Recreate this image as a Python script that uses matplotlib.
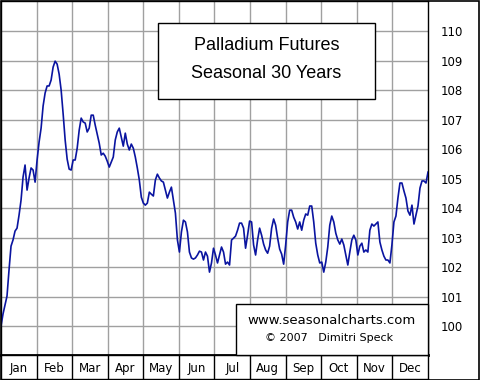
import numpy as np
import matplotlib.pyplot as plt
from matplotlib.patches import Rectangle

# seasonal index, sampled evenly across the year
season = [
    100.00, 100.41, 100.71, 101.02, 101.90, 102.71, 102.92, 103.22, 103.32, 103.76,
    104.27, 105.05, 105.46, 104.61, 105.02, 105.36, 105.29, 104.88, 105.63, 106.24,
    106.71, 107.46, 107.90, 108.14, 108.14, 108.34, 108.78, 108.98, 108.88, 108.54,
    108.00, 107.19, 106.31, 105.66, 105.32, 105.29, 105.63, 105.63, 106.03, 106.64,
    107.05, 106.92, 106.88, 106.58, 106.71, 107.15, 107.15, 106.81, 106.51, 106.20,
    105.80, 105.86, 105.76, 105.59, 105.39, 105.56, 105.73, 106.31, 106.58, 106.71,
    106.41, 106.10, 106.54, 106.17, 105.97, 106.17, 106.03, 105.73, 105.36, 104.95,
    104.37, 104.17, 104.10, 104.17, 104.54, 104.47, 104.41, 104.95, 105.15, 105.02,
    104.92, 104.88, 104.61, 104.34, 104.54, 104.71, 104.27, 103.83, 102.92, 102.51,
    103.19, 103.59, 103.53, 103.19, 102.51, 102.31, 102.27, 102.31, 102.41, 102.54,
    102.51, 102.24, 102.51, 102.37, 101.83, 102.14, 102.64, 102.41, 102.14, 102.41,
    102.68, 102.51, 102.10, 102.17, 102.07, 102.92, 102.98, 103.05, 103.25, 103.49,
    103.49, 103.32, 102.64, 103.08, 103.56, 103.53, 102.75, 102.41, 102.92, 103.32,
    103.08, 102.78, 102.58, 102.47, 102.71, 103.32, 103.63, 103.42, 102.98, 102.61,
    102.44, 102.10, 102.75, 103.53, 103.93, 103.93, 103.69, 103.53, 103.29, 103.53,
    103.25, 103.59, 103.80, 103.76, 104.07, 104.07, 103.53, 102.81, 102.41, 102.14,
    102.17, 101.83, 102.17, 102.68, 103.42, 103.73, 103.53, 103.15, 102.92, 102.78,
    102.95, 102.75, 102.41, 102.07, 102.51, 102.92, 103.08, 102.92, 102.41, 102.71,
    102.81, 102.51, 102.58, 102.51, 103.25, 103.46, 103.39, 103.46, 103.53, 102.85,
    102.58, 102.37, 102.24, 102.24, 102.14, 102.75, 103.53, 103.73, 104.34, 104.85,
    104.85, 104.58, 104.34, 103.90, 103.76, 104.10, 103.46, 103.76, 104.07, 104.68,
    104.92, 104.92, 104.85, 105.22,
]
months = ["Jan", "Feb", "Mar", "Apr", "May", "Jun",
          "Jul", "Aug", "Sep", "Oct", "Nov", "Dec"]
yticks = list(range(100, 111))

W, H = 480, 380
fig = plt.figure(figsize=(W / 100, H / 100), dpi=100)
fig.patch.set_facecolor("white")


def fx(px):
    return px / W


def fy(py):
    return 1 - py / H


grid_c = "#a0a0a0"
ax = fig.add_axes([fx(1), fy(355), fx(427), 354 / H])
x = np.linspace(0, 12, len(season))
ax.plot(x, season, color="#0a14a0", lw=1.2, zorder=3)
ax.set_xlim(0, 12)
ax.set_ylim(99.02, 111.02)
ax.set_xticks(range(1, 12))
ax.set_yticks(yticks)
ax.grid(True, color=grid_c, lw=1)
ax.tick_params(axis="x", length=0, labelbottom=False)
ax.yaxis.tick_right()
ax.tick_params(axis="y", length=0, pad=9, labelsize=8.5)
for s in ax.spines.values():
    s.set_color("black")
    s.set_linewidth(1)
ax.spines["bottom"].set_linewidth(2)

# month strip
mx = fig.add_axes([fx(1), fy(379), fx(427), 24 / H])
mx.set_xlim(0, 12)
mx.set_ylim(0, 1)
mx.set_xticks([])
mx.set_yticks([])
for i in range(1, 12):
    mx.axvline(i, color="black", lw=1)
for i, m in enumerate(months):
    mx.text(i + 0.5, 0.45, m, ha="center", va="center", fontsize=8.5)
for s in mx.spines.values():
    s.set_linewidth(1)

# title box
fig.patches.append(Rectangle((fx(158), fy(99)), fx(217), 76 / H, transform=fig.transFigure,
                             facecolor="white", edgecolor="black", lw=1, zorder=5))
fig.text(fx(266.5), fy(46), "Palladium Futures", ha="center", va="center",
         fontsize=13, family="Liberation Sans", zorder=6)
fig.text(fx(266.5), fy(73), "Seasonal 30 Years", ha="center", va="center",
         fontsize=13, family="Liberation Sans", zorder=6)

# copyright box
fig.patches.append(Rectangle((fx(236), fy(355)), fx(192), 51 / H, transform=fig.transFigure,
                             facecolor="white", edgecolor="black", lw=1, zorder=5))
fig.text(fx(332), fy(320), "www.seasonalcharts.com", ha="center", va="center",
         fontsize=9.5, zorder=6)
fig.text(fx(329), fy(338), "\u00a9 2007   Dimitri Speck", ha="center", va="center",
         fontsize=8, zorder=6)

# outer frame
fig.patches.append(Rectangle((fx(0.5), fy(379.5)), fx(478), 379 / H, transform=fig.transFigure,
                             facecolor="none", edgecolor="black", lw=1.2, zorder=7))

fig.savefig("out.png", dpi=100)
